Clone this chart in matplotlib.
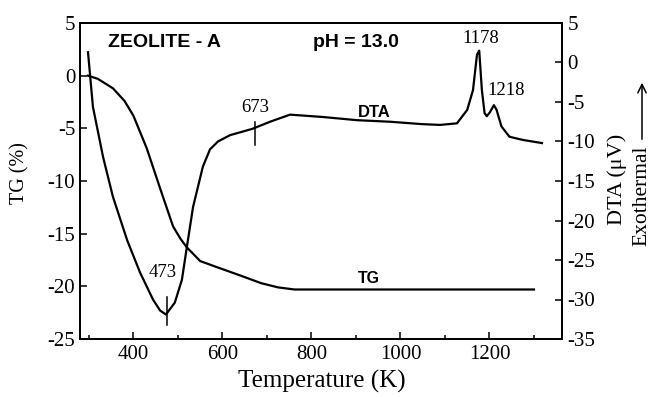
import matplotlib
matplotlib.use("Agg")
import matplotlib.pyplot as plt
from matplotlib.ticker import MultipleLocator
from matplotlib.patches import FancyArrowPatch

# ---- data ----
tg_temp = [298, 320, 354, 380, 400, 430, 460, 489, 506, 520, 550, 589, 642, 687, 725, 762, 900, 1100, 1300]
tg_vals = [0.0, -0.3, -1.2, -2.4, -3.8, -6.9, -10.7, -14.3, -15.5, -16.3, -17.6, -18.2, -19.0, -19.7, -20.1,
           -20.3, -20.3, -20.3, -20.3]

dta_temp = [298, 309, 332, 354, 386, 415, 444, 460, 473, 493, 509, 520, 534, 556, 572, 590, 617, 667, 707,
            752, 826, 902, 977, 1048, 1089, 1127, 1150, 1163, 1172, 1177, 1183, 1189, 1194, 1201, 1210,
            1216, 1227, 1245, 1275, 1318]
dta_vals = [1.3, -5.6, -12.0, -17.0, -22.5, -26.6, -30.0, -31.4, -31.9, -30.4, -27.5, -23.4, -18.3, -13.2,
            -11.0, -10.0, -9.2, -8.4, -7.5, -6.6, -6.9, -7.3, -7.5, -7.8, -7.9, -7.7, -6.0, -3.5, 1.0, 1.5,
            -3.5, -6.4, -6.8, -6.3, -5.4, -6.0, -8.1, -9.4, -9.8, -10.2]

x_ticks = [400, 600, 800, 1000, 1200]
tg_ticks = [5, 0, -5, -10, -15, -20, -25]
dta_ticks = [5, 0, -5, -10, -15, -20, -25, -30, -35]

mark_temps = [475, 673]
mark_lo = [-29.7, -7.5]
mark_hi = [-33.2, -10.4]

peak_labels = ["473", "673", "1178", "1218"]
peak_label_x = [465, 673, 1181, 1237]
peak_label_y = [-27.2, -6.3, 2.5, -4.1]

serif = ["Liberation Serif", "DejaVu Serif"]
sans_b = ["Liberation Sans", "DejaVu Sans"]

fig = plt.figure(figsize=(6.52, 3.97), dpi=100)
ax = fig.add_axes([80/652, 1-339/397, 482/652, 316/397])
ax2 = ax.twinx()

ax.plot(tg_temp, tg_vals, color="black", lw=1.6)
ax2.plot(dta_temp, dta_vals, color="black", lw=1.6)

ax.set_xlim(280, 1363)
ax.set_ylim(-25, 5)
ax2.set_ylim(-35, 5)

ax.set_xticks(x_ticks)
ax.xaxis.set_minor_locator(MultipleLocator(100))
ax.set_yticks(tg_ticks)
ax2.set_yticks(dta_ticks)
ax.set_xticklabels([str(v) for v in x_ticks])
ax.set_yticklabels([str(v) for v in tg_ticks])
ax2.set_yticklabels([str(v) for v in dta_ticks])

for a in (ax, ax2):
    for s in a.spines.values():
        s.set_linewidth(1.3)
ax.tick_params(axis="both", which="both", direction="in", top=False, right=False,
               labelsize=15, length=5, width=1.1)
ax.tick_params(axis="x", which="major", pad=4)
ax.tick_params(axis="x", which="minor", length=3)
ax2.tick_params(axis="y", direction="in", labelsize=15, length=5, width=1.1, pad=4)
for lab in ax.get_xticklabels() + ax.get_yticklabels() + ax2.get_yticklabels():
    lab.set_family(serif)

fig.text(322/652, 1-381/397, "Temperature (K)", family=serif, fontsize=18, ha="center", va="center")
fig.text(20/652, 1-173/397, "TG (%)", rotation=90, family=serif, fontsize=14.5, ha="center", va="center")
fig.text(617/652, 1-179/397, "DTA (\u03bcV)", rotation=90, family=serif, fontsize=16, ha="center", va="center")
fig.text(642/652, 1-196/397, "Exothermal", rotation=90, family=serif, fontsize=15.5, ha="center", va="center")
fig.add_artist(FancyArrowPatch((642/652, 1-142/397), (642/652, 1-80/397),
               transform=fig.transFigure, arrowstyle="->", mutation_scale=15, lw=1.1, color="black"))

# vertical marks and labels on DTA curve
for t, y0, y1 in zip(mark_temps, mark_lo, mark_hi):
    ax2.plot([t, t], [y0, y1], color="black", lw=1.1)
for txt, x, y in zip(peak_labels, peak_label_x, peak_label_y):
    ax2.text(x, y, txt, family=serif, fontsize=13.5, ha="center", va="baseline")

ax2.text(469, 2.47, "ZEOLITE - A", family=sans_b, fontweight="bold", fontsize=14, ha="center", va="center")
ax2.text(899, 2.47, "pH = 13.0", family=sans_b, fontweight="bold", fontsize=14, ha="center", va="center")
ax2.text(941, -6.3, "DTA", family=sans_b, fontweight="bold", fontsize=12, ha="center", va="center")
ax2.text(929, -27.4, "TG", family=sans_b, fontweight="bold", fontsize=11.5, ha="center", va="center")

fig.savefig("out.png", dpi=100)
